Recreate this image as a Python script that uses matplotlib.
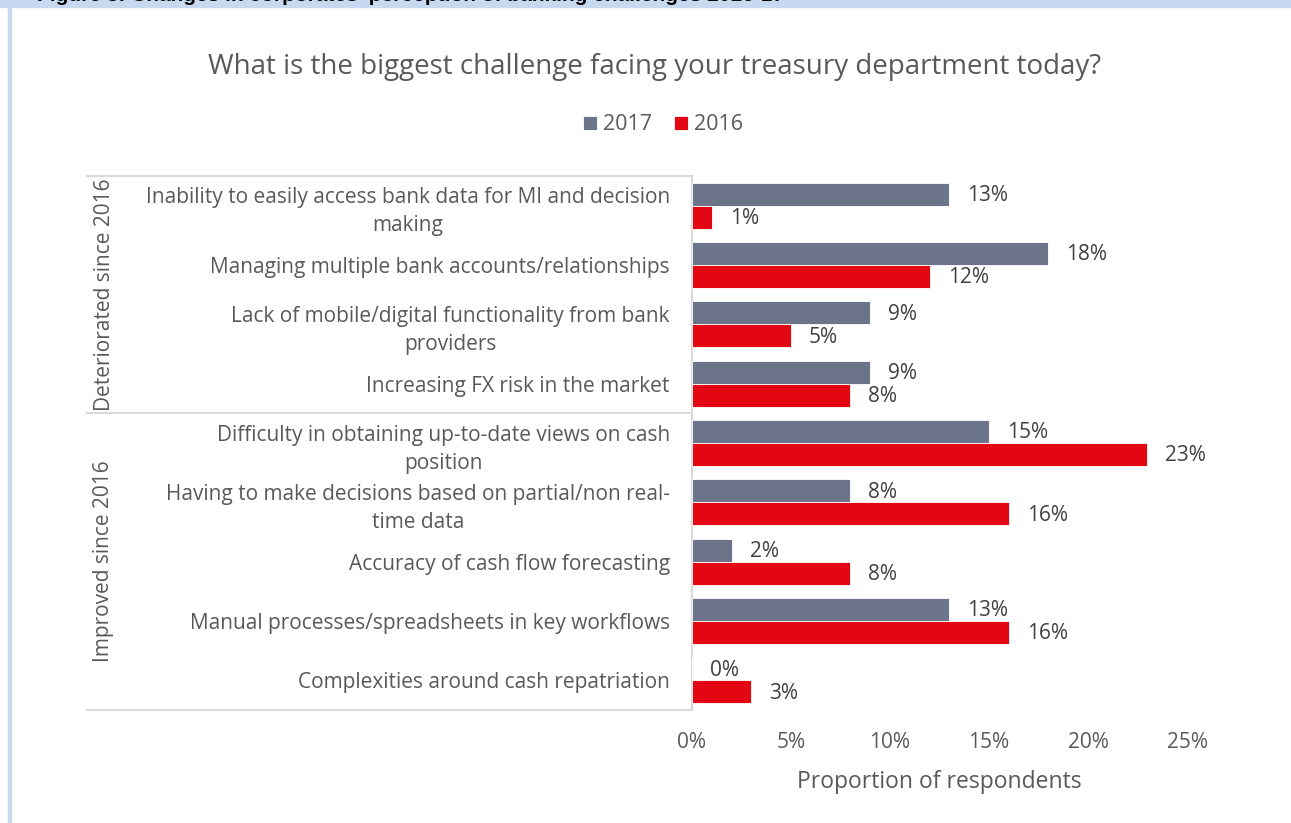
import matplotlib
matplotlib.use("Agg")
import matplotlib.pyplot as plt
from matplotlib.patches import Rectangle
from matplotlib.lines import Line2D
import numpy as np

plt.rcParams['font.family'] = ['Open Sans', 'DejaVu Sans']

categories = [
    "Inability to easily access bank data for MI and decision\nmaking",
    "Managing multiple bank accounts/relationships",
    "Lack of mobile/digital functionality from bank\nproviders",
    "Increasing FX risk in the market",
    "Difficulty in obtaining up-to-date views on cash\nposition",
    "Having to make decisions based on partial/non real-\ntime data",
    "Accuracy of cash flow forecasting",
    "Manual processes/spreadsheets in key workflows",
    "Complexities around cash repatriation",
]
groups = ["Deteriorated since 2016", "Improved since 2016"]
group_sizes = [4, 5]
values_2017 = [13, 18, 9, 9, 15, 8, 2, 13, 0]
values_2016 = [1, 12, 5, 8, 23, 16, 8, 16, 3]
series_names = ["2017", "2016"]
x_ticks = [0, 5, 10, 15, 20, 25]

GREY = "#6b7489"
RED = "#e30613"
TEXT = "#595959"
LABEL = "#404040"
LINE = "#d9d9d9"

W, H = 1291, 823
fig = plt.figure(figsize=(W / 100, H / 100), dpi=100)

def fx(px):
    return px / W

def fy(py):
    return 1 - py / H

# page frame: light blue header band and left rule
fig.patches.append(Rectangle((0, fy(7)), 1, 7 / H, transform=fig.transFigure,
                             color="#c6d9f1", zorder=0))
fig.patches.append(Rectangle((fx(8), 0), 3 / W, fy(7), transform=fig.transFigure,
                             color="#c6d9f1", zorder=0))
fig.text(fx(37), fy(1), "Figure 3: Changes in corporates' perception of banking challenges 2016-17",
         fontsize=15, fontweight="bold", color="black", va="baseline", ha="left",
         family=["Liberation Sans", "DejaVu Sans"])

ax = fig.add_axes([fx(692), fy(710), fx(1187) - fx(692), fy(176) - fy(710)])

n = len(categories)
y = np.arange(n)
bh = 0.39
ax.barh(y - bh / 2, values_2017, height=bh, color=GREY, edgecolor="white",
        linewidth=0.6, label=series_names[0], zorder=3)
ax.barh(y + bh / 2, values_2016, height=bh, color=RED, edgecolor="white",
        linewidth=0.6, label=series_names[1], zorder=3)

for yi, v in zip(y, values_2017):
    ax.annotate(f"{v}%", (v, yi - bh / 2), xytext=(13, -1), textcoords="offset points",
                ha="left", va="center", fontsize=15, color=LABEL)
for yi, v in zip(y, values_2016):
    ax.annotate(f"{v}%", (v, yi + bh / 2), xytext=(13, -1), textcoords="offset points",
                ha="left", va="center", fontsize=15, color=LABEL)

ax.set_xlim(0, 25)
ax.set_ylim(n - 0.5, -0.5)
ax.set_xticks(x_ticks)
ax.set_xticklabels([f"{t}%" for t in x_ticks], fontsize=15, color=TEXT)
ax.tick_params(axis="x", length=0, pad=16)
ax.set_yticks(y)
ax.set_yticklabels(categories, fontsize=15, color=TEXT)
for lbl in ax.get_yticklabels():
    lbl.set_multialignment("center")
    lbl.set_linespacing(1.45)
ax.tick_params(axis="y", length=0, pad=16)
ax.set_xlabel("Proportion of respondents", fontsize=16.5, color=TEXT, labelpad=12)

for s in ["top", "right", "bottom"]:
    ax.spines[s].set_visible(False)
ax.spines["left"].set_color(LINE)
ax.spines["left"].set_linewidth(1.5)

# multi-level category axis: group dividers and rotated group names
for py in [176, 413, 710]:
    fig.add_artist(Line2D([fx(87), fx(692)], [fy(py), fy(py)], transform=fig.transFigure,
                          color=LINE, linewidth=1.5))
start = 0
for g, size in zip(groups, group_sizes):
    mid = start + (size - 1) / 2
    ypix = 176 + (mid + 0.5) * (710 - 176) / n
    fig.text(fx(104), fy(ypix), g, rotation=90, ha="center", va="center",
             fontsize=15, color=TEXT)
    start += size

fig.text(fx(655), fy(67), "What is the biggest challenge facing your treasury department today?",
         ha="center", va="center", fontsize=20, color=TEXT)

leg = fig.legend(loc="center", bbox_to_anchor=(fx(663), fy(125)), ncol=2, frameon=False,
                 fontsize=15.5, handlelength=0.65, handleheight=0.65, handletextpad=0.3,
                 columnspacing=1.0)
for t in leg.get_texts():
    t.set_color(TEXT)

fig.savefig("out.png", dpi=100)
